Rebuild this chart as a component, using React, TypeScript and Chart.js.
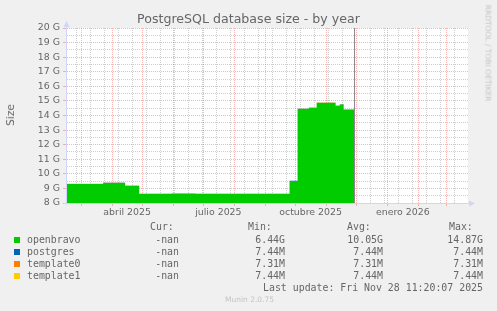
import React, { useEffect, useRef } from "react";
import { Chart, registerables } from "chart.js";

Chart.register(...registerables);

const W = 497;
const H = 311;

const TITLE = "PostgreSQL database size - by year";
const Y_TITLE = "Size";
const WATERMARK = "RRDTOOL / TOBI OETIKER";
const FOOTER = "Munin 2.0.75";
const LAST_UPDATE = "Last update: Fri Nov 28 11:20:07 2025";

// x axis: days since 15 Feb 2025
const X_MIN = 0;
const X_MAX = 400;
const NOW_DAY = 286.5;

const stepDays = [0, 36, 58, 72, 104, 128, 222, 230, 241, 249, 268, 272, 276, 287];
const openbravo = [9.3, 9.38, 9.18, 8.62, 8.64, 8.62, 9.51, 14.45, 14.52, 14.87, 14.66, 14.76, 14.4, 14.4];
const postgres = [0.00744, 0.00744, 0.00744, 0.00744, 0.00744, 0.00744, 0.00744, 0.00744, 0.00744, 0.00744, 0.00744, 0.00744, 0.00744, 0.00744];
const template0 = [0.00731, 0.00731, 0.00731, 0.00731, 0.00731, 0.00731, 0.00731, 0.00731, 0.00731, 0.00731, 0.00731, 0.00731, 0.00731, 0.00731];
const template1 = [0.00744, 0.00744, 0.00744, 0.00744, 0.00744, 0.00744, 0.00744, 0.00744, 0.00744, 0.00744, 0.00744, 0.00744, 0.00744, 0.00744];

const Y_MIN = 8;
const Y_MAX = 20;
const Y_STEP = 0.5;

const monthStartDays = [14, 45, 75, 106, 136, 167, 198, 228, 259, 289, 320, 351, 379];
const monthLabelDays = [60, 151, 243, 335];
const monthLabels = ["abril 2025", "julio 2025", "octubre 2025", "enero 2026"];
// minor grid: every second Monday
const FIRST_MINOR_DAY = 9;
const MINOR_STEP_DAYS = 14;

const seriesNames = ["openbravo", "postgres", "template0", "template1"];
const seriesColors = ["#00cc00", "#0066b3", "#ff8000", "#ffcc00"];
const seriesValues = [openbravo, postgres, template0, template1];
const curValues = ["-nan", "-nan", "-nan", "-nan"];
const minValues = ["6.44G", "7.44M", "7.31M", "7.44M"];
const avgValues = ["10.05G", "7.44M", "7.31M", "7.44M"];
const maxValues = ["14.87G", "7.44M", "7.31M", "7.44M"];

const FONT_COLOR = "#666666";
const AXIS_COLOR = "#CFD6F8";
const MAJOR_GRID = "rgba(240, 120, 120, 0.55)";
const MINOR_GRID = "rgba(130, 130, 130, 0.38)";
const SANS = "'DejaVu Sans', sans-serif";
const MONO = "'DejaVu Sans Mono', monospace";

function xKind(v: number) {
  if (monthStartDays.includes(v)) return "major";
  if (monthLabelDays.includes(v)) return "label";
  return "minor";
}

const decorations = {
  id: "rrdDecorations",
  afterDraw(chart: any) {
    const { ctx, chartArea } = chart;
    const { left, right, top, bottom } = chartArea;
    const xs = chart.scales.x;
    ctx.save();
    // now line
    const nx = Math.round(xs.getPixelForValue(NOW_DAY)) + 0.5;
    ctx.strokeStyle = "#8a8a8a";
    ctx.lineWidth = 1;
    ctx.beginPath();
    ctx.moveTo(nx, top);
    ctx.lineTo(nx, bottom);
    ctx.stroke();
    // axes
    ctx.strokeStyle = AXIS_COLOR;
    ctx.beginPath();
    ctx.moveTo(left - 0.5, bottom + 2);
    ctx.lineTo(left - 0.5, top - 4);
    ctx.moveTo(left - 3, bottom + 0.5);
    ctx.lineTo(right + 4, bottom + 0.5);
    ctx.stroke();
    // arrows
    ctx.fillStyle = AXIS_COLOR;
    ctx.beginPath();
    ctx.moveTo(left - 0.5, top - 7);
    ctx.lineTo(left - 3.5, top - 1);
    ctx.lineTo(left + 2.5, top - 1);
    ctx.closePath();
    ctx.fill();
    ctx.beginPath();
    ctx.moveTo(right + 7, bottom + 0.5);
    ctx.lineTo(right + 1, bottom - 2.5);
    ctx.lineTo(right + 1, bottom + 3.5);
    ctx.closePath();
    ctx.fill();
    ctx.restore();
  },
};

function ChartCanvas() {
  const ref = useRef<HTMLCanvasElement | null>(null);
  useEffect(() => {
    if (!ref.current) return;
    const pts = (vals: number[]) => stepDays.map((d, i) => ({ x: d, y: vals[i] }));
    const datasets = seriesNames.map((name, i) => ({
      label: name,
      data: pts(seriesValues[i]),
      stepped: "before" as const,
      fill: i === 0 ? "start" : "-1",
      backgroundColor: seriesColors[i],
      borderColor: "transparent",
      borderWidth: 0,
      pointRadius: 0,
      pointHoverRadius: 0,
    }));
    const chart = new Chart(ref.current, {
      type: "line",
      data: { datasets: datasets as any },
      plugins: [decorations],
      options: {
        animation: false,
        responsive: false,
        events: [],
        layout: { padding: { left: 0, top: 28, right: 29, bottom: 88 } },
        plugins: {
          legend: { display: false },
          tooltip: { enabled: false },
          title: { display: false },
        },
        scales: {
          x: {
            type: "linear",
            min: X_MIN,
            max: X_MAX,
            z: 1,
            afterBuildTicks: (s: any) => {
              const vals = new Set<number>();
              for (let d = FIRST_MINOR_DAY; d <= X_MAX; d += MINOR_STEP_DAYS) vals.add(d);
              monthStartDays.forEach((v) => vals.add(v));
              monthLabelDays.forEach((v) => vals.add(v));
              s.ticks = Array.from(vals)
                .sort((a, b) => a - b)
                .map((v) => ({ value: v }));
            },
            afterFit: (s: any) => {
              s.height = 20;
            },
            ticks: {
              autoSkip: false,
              maxRotation: 0,
              minRotation: 0,
              padding: 1,
              color: FONT_COLOR,
              font: { family: SANS, size: 9.4 },
              callback: (v: any) => {
                const i = monthLabelDays.indexOf(Number(v));
                return i >= 0 ? monthLabels[i] : "";
              },
            },
            grid: {
              lineWidth: 1,
              drawTicks: true,
              tickLength: 3,
              color: (c: any) => {
                const k = xKind(c.tick.value);
                return k === "major" ? MAJOR_GRID : k === "minor" ? MINOR_GRID : "transparent";
              },
              tickColor: (c: any) => (xKind(c.tick.value) === "major" ? MAJOR_GRID : "transparent"),
            },
            border: {
              display: false,
              dash: (c: any) => (c.type === "tick" ? [1, 1] : []),
            },
          },
          y: {
            type: "linear",
            min: Y_MIN,
            max: Y_MAX,
            stacked: true,
            z: 1,
            afterBuildTicks: (s: any) => {
              const t: any[] = [];
              for (let v = Y_MIN; v <= Y_MAX + 1e-9; v += Y_STEP) t.push({ value: v });
              s.ticks = t;
            },
            afterFit: (s: any) => {
              s.width = 67;
            },
            ticks: {
              autoSkip: false,
              padding: 3,
              color: FONT_COLOR,
              font: { family: SANS, size: 9.4 },
              callback: (v: any) => (Number.isInteger(Number(v)) ? `${v} G` : ""),
            },
            grid: {
              lineWidth: 1,
              drawTicks: true,
              tickLength: 4,
              color: (c: any) => (Number.isInteger(c.tick.value) ? MAJOR_GRID : MINOR_GRID),
              tickColor: (c: any) => (Number.isInteger(c.tick.value) ? MAJOR_GRID : "transparent"),
            },
            border: {
              display: false,
              dash: (c: any) => (c.type === "tick" ? [1, 1] : []),
            },
          },
        },
      } as any,
    });
    return () => chart.destroy();
  }, []);
  return (
    <canvas
      ref={ref}
      width={W}
      height={H}
      style={{ position: "absolute", left: 0, top: 0, width: W, height: H }}
    />
  );
}

function Txt(props: {
  x: number;
  y: number;
  right?: boolean;
  children: React.ReactNode;
  style?: React.CSSProperties;
}) {
  const { x, y, right, children, style } = props;
  return (
    <div
      style={{
        position: "absolute",
        top: y - 6,
        left: right ? undefined : x,
        right: right ? W - x : undefined,
        lineHeight: "12px",
        height: 12,
        whiteSpace: "pre",
        fontFamily: MONO,
        fontSize: 9.9,
        color: FONT_COLOR,
        ...style,
      }}
    >
      {children}
    </div>
  );
}

export default function App() {
  const rowY = [240, 252, 264, 276];
  return (
    <div
      style={{
        position: "absolute",
        left: 0,
        top: 0,
        width: W,
        height: H,
        background: "#f0f0f0",
        overflow: "hidden",
      }}
    >
      <div
        style={{
          position: "absolute",
          left: 67,
          top: 28,
          width: 401,
          height: 175,
          background: "#ffffff",
        }}
      />
      <ChartCanvas />
      <div
        style={{
          position: "absolute",
          left: 0,
          width: 497,
          top: 11,
          textAlign: "center",
          fontFamily: SANS,
          fontSize: 12.6,
          lineHeight: "16px",
          color: FONT_COLOR,
          whiteSpace: "pre",
        }}
      >
        {TITLE}
      </div>
      <div
        style={{
          position: "absolute",
          left: 10,
          top: 115,
          transform: "translate(-50%, -50%) rotate(-90deg)",
          fontFamily: SANS,
          fontSize: 10.6,
          lineHeight: "12px",
          color: FONT_COLOR,
          whiteSpace: "pre",
        }}
      >
        {Y_TITLE}
      </div>
      <div
        style={{
          position: "absolute",
          left: 488,
          top: 53,
          transform: "translate(-50%, -50%) rotate(90deg)",
          fontFamily: SANS,
          fontSize: 7.5,
          lineHeight: "9px",
          color: "#c4c4c4",
          whiteSpace: "pre",
        }}
      >
        {WATERMARK}
      </div>
      <Txt x={150} y={227}>Cur:</Txt>
      <Txt x={248} y={227}>Min:</Txt>
      <Txt x={347} y={227}>Avg:</Txt>
      <Txt x={449} y={227}>Max:</Txt>
      {seriesNames.map((name, i) => (
        <React.Fragment key={name}>
          <div
            style={{
              position: "absolute",
              left: 14,
              top: rowY[i] - 3,
              width: 6,
              height: 6,
              background: seriesColors[i],
            }}
          />
          <Txt x={27} y={rowY[i]}>{name}</Txt>
          <Txt x={179} y={rowY[i]} right>{curValues[i]}</Txt>
          <Txt x={285} y={rowY[i]} right>{minValues[i]}</Txt>
          <Txt x={383} y={rowY[i]} right>{avgValues[i]}</Txt>
          <Txt x={483} y={rowY[i]} right>{maxValues[i]}</Txt>
        </React.Fragment>
      ))}
      <Txt x={483} y={288} right>{LAST_UPDATE}</Txt>
      <div
        style={{
          position: "absolute",
          left: 0,
          width: 497,
          top: 295,
          textAlign: "center",
          fontFamily: SANS,
          fontSize: 7.5,
          lineHeight: "10px",
          color: "#c4c4c4",
          paddingLeft: 1,
        }}
      >
        {FOOTER}
      </div>
    </div>
  );
}
